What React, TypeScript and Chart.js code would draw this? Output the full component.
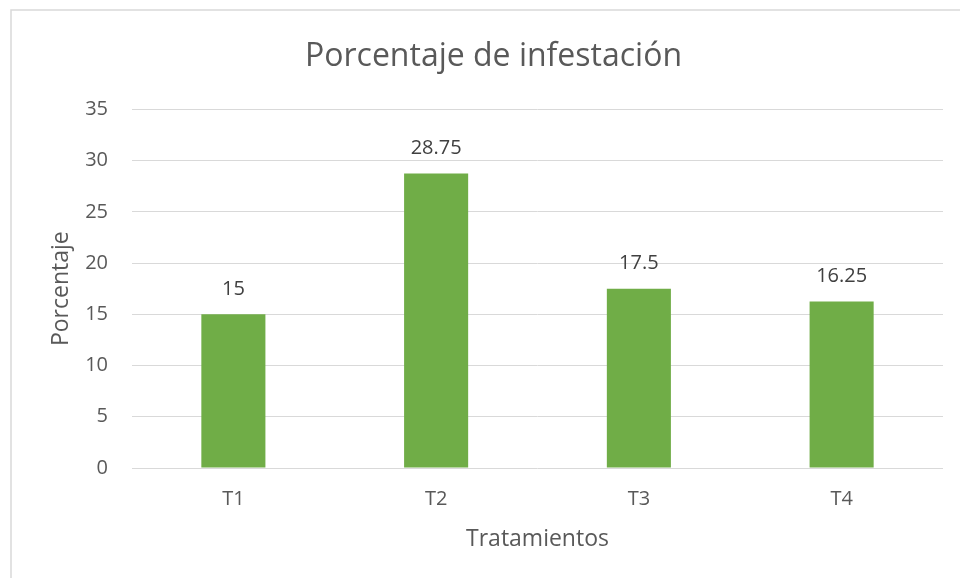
import React, { useEffect, useRef } from "react";
import { Chart, registerables } from "chart.js";

Chart.register(...registerables);

const categories = ["T1", "T2", "T3", "T4"];
const values = [15, 28.75, 17.5, 16.25];
const valueLabels = ["15", "28.75", "17.5", "16.25"];
const yTicks = [0, 5, 10, 15, 20, 25, 30, 35];
const chartTitle = "Porcentaje de infestación";
const xTitle = "Tratamientos";
const yTitle = "Porcentaje";

const FONT = "'Open Sans', 'Liberation Sans', sans-serif";

const borderPlugin = {
  id: "outerBorder",
  beforeDraw(chart: any) {
    const ctx = chart.ctx;
    ctx.save();
    ctx.strokeStyle = "#d9d9d9";
    ctx.lineWidth = 1.5;
    ctx.strokeRect(11, 10, chart.width + 20, chart.height + 20);
    ctx.restore();
  },
};

const labelPlugin = {
  id: "valueLabels",
  afterDatasetsDraw(chart: any) {
    const ctx = chart.ctx;
    const meta = chart.getDatasetMeta(0);
    ctx.save();
    ctx.font = `20px ${FONT}`;
    ctx.fillStyle = "#404040";
    ctx.textAlign = "center";
    ctx.textBaseline = "middle";
    meta.data.forEach((bar: any, i: number) => {
      ctx.fillText(valueLabels[i], bar.x, bar.y - 25);
    });
    ctx.restore();
  },
};

export default function App() {
  const ref = useRef<HTMLCanvasElement>(null);
  useEffect(() => {
    if (!ref.current) return;
    const chart = new Chart(ref.current, {
      type: "bar",
      data: {
        labels: categories,
        datasets: [
          {
            data: values,
            backgroundColor: "#70ad47",
            categoryPercentage: 1,
            barPercentage: 0.316,
          },
        ],
      },
      options: {
        animation: false,
        responsive: false,
        devicePixelRatio: 1,
        layout: { padding: { top: 10, right: 17, bottom: 0, left: 44 } },
        plugins: {
          legend: { display: false },
          tooltip: { enabled: false },
          title: {
            display: true,
            text: chartTitle,
            color: "#595959",
            font: { family: FONT, size: 32, weight: "normal" },
            padding: { top: 28, bottom: 33 },
          },
        },
        scales: {
          x: {
            grid: { display: false, drawTicks: false },
            border: { display: false },
            ticks: { color: "#595959", font: { family: FONT, size: 20 }, padding: 19 },
            title: {
              display: true,
              text: xTitle,
              color: "#595959",
              font: { family: FONT, size: 23 },
              padding: { top: 0, bottom: 25 },
            },
            afterFit(scale: any) {
              scale.height = 110;
            },
          },
          y: {
            min: 0,
            max: 35,
            afterBuildTicks(scale: any) {
              scale.ticks = yTicks.map((v) => ({ value: v }));
            },
            grid: { color: "#d9d9d9", lineWidth: 1, drawTicks: false },
            border: { display: false },
            ticks: { color: "#595959", font: { family: FONT, size: 20 }, padding: 24 },
            title: {
              display: true,
              text: yTitle,
              color: "#595959",
              font: { family: FONT, size: 23 },
              padding: { top: 4, bottom: 0 },
            },
            afterFit(scale: any) {
              scale.width = 88;
            },
          },
        },
      },
      plugins: [borderPlugin, labelPlugin],
    } as any);
    return () => chart.destroy();
  }, []);
  return (
    <div style={{ position: "fixed", left: 0, top: 0, width: 960, height: 578, background: "#fff" }}>
      <canvas ref={ref} width={960} height={578} style={{ display: "block" }} />
    </div>
  );
}
